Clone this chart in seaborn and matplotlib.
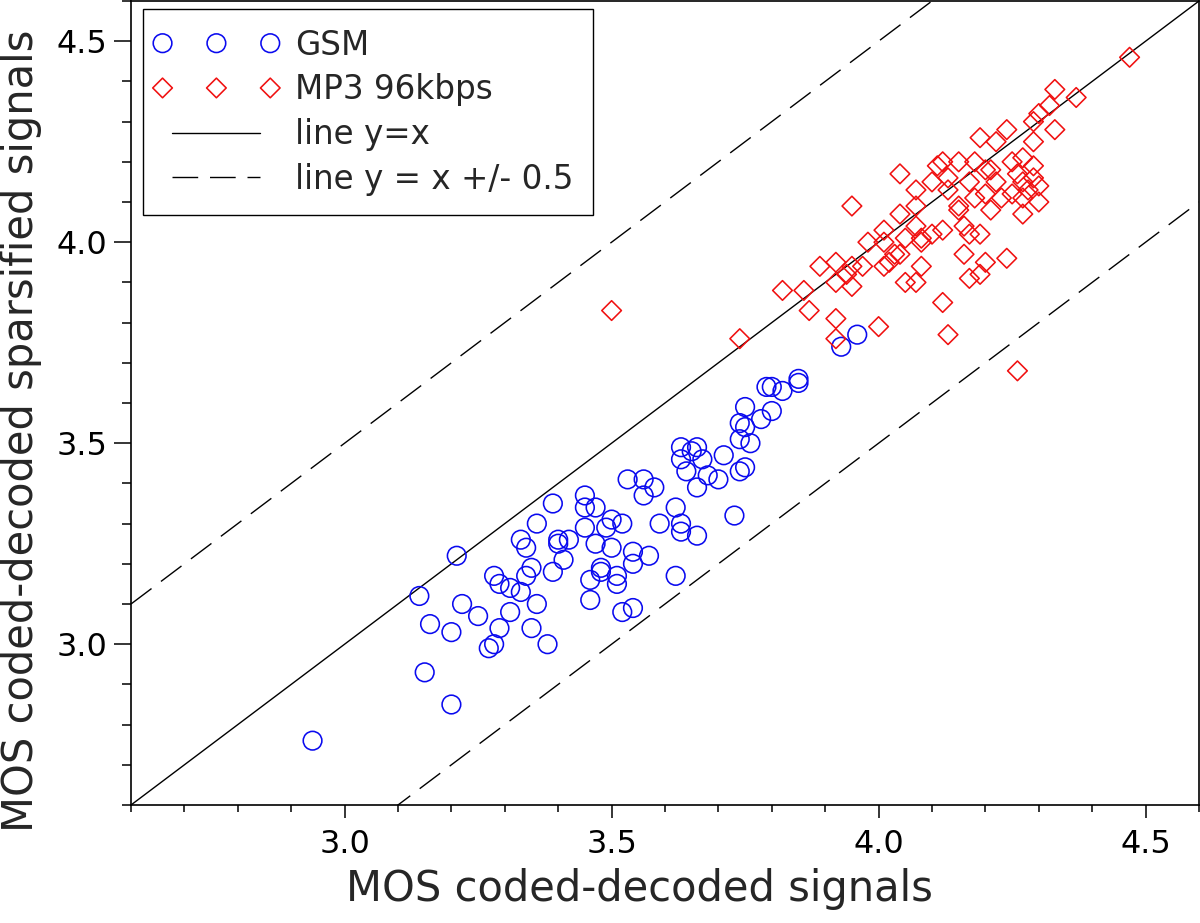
import matplotlib
matplotlib.use("Agg")
import matplotlib.pyplot as plt
import seaborn as sns
import pandas as pd
from matplotlib.ticker import MultipleLocator, FormatStrFormatter
from matplotlib.collections import PathCollection
from matplotlib.legend_handler import HandlerPathCollection

# ---------------- data ----------------
gsm_x = [2.94, 3.14, 3.16, 3.15, 3.20, 3.20, 3.22, 3.21, 3.25, 3.31, 3.29, 3.28, 3.27,
         3.28, 3.29, 3.31, 3.34, 3.33, 3.35, 3.36, 3.38, 3.63, 3.65, 3.66, 3.67, 3.63,
         3.64, 3.66, 3.68, 3.53, 3.56, 3.58, 3.56, 3.62, 3.59, 3.63, 3.63, 3.66, 3.39,
         3.45, 3.45, 3.47, 3.50, 3.52, 3.49, 3.45, 3.36, 3.33, 3.34, 3.40, 3.42, 3.40,
         3.47, 3.50, 3.41, 3.54, 3.54, 3.57, 3.62, 3.35, 3.39, 3.46, 3.48, 3.48, 3.51,
         3.51, 3.46, 3.52, 3.54, 3.71, 3.70, 3.74, 3.75, 3.93, 3.96, 3.85, 3.85, 3.79,
         3.80, 3.82, 3.75, 3.80, 3.78, 3.74, 3.75, 3.74, 3.76, 3.73]
gsm_y = [2.76, 3.12, 3.05, 2.93, 2.85, 3.03, 3.10, 3.22, 3.07, 3.08, 3.04, 3.00, 2.99,
         3.17, 3.15, 3.14, 3.17, 3.13, 3.04, 3.10, 3.00, 3.49, 3.48, 3.49, 3.46, 3.46,
         3.43, 3.39, 3.42, 3.41, 3.41, 3.39, 3.37, 3.34, 3.30, 3.30, 3.28, 3.27, 3.35,
         3.37, 3.34, 3.34, 3.31, 3.30, 3.29, 3.29, 3.30, 3.26, 3.24, 3.26, 3.26, 3.25,
         3.25, 3.24, 3.21, 3.23, 3.20, 3.22, 3.17, 3.19, 3.18, 3.16, 3.19, 3.18, 3.17,
         3.15, 3.11, 3.08, 3.09, 3.47, 3.41, 3.43, 3.44, 3.74, 3.77, 3.66, 3.65, 3.64,
         3.64, 3.63, 3.59, 3.58, 3.56, 3.55, 3.54, 3.51, 3.50, 3.32]

mp3_x = [3.50, 3.74, 3.82, 3.86, 3.87, 3.89, 3.92, 3.94, 3.92, 3.95, 3.95, 3.92, 3.92,
         4.00, 3.97, 4.01, 4.02, 4.08, 4.05, 4.07, 4.17, 4.19, 4.12, 4.13, 3.95, 3.98,
         4.01, 4.01, 4.03, 4.04, 4.04, 4.04, 4.05, 4.07, 4.07, 4.07, 4.08, 4.08, 4.10,
         4.10, 4.11, 4.12, 4.12, 4.13, 4.13, 4.15, 4.15, 4.15, 4.16, 4.16, 4.17, 4.17,
         4.18, 4.18, 4.19, 4.19, 4.20, 4.20, 4.20, 4.21, 4.21, 4.22, 4.22, 4.23, 4.24,
         4.24, 4.25, 4.25, 4.27, 4.29, 4.26, 4.29, 4.27, 4.30, 4.28, 4.30, 4.27, 4.27,
         4.29, 4.29, 4.33, 4.30, 4.32, 4.33, 4.37, 4.47, 4.26]
mp3_y = [3.83, 3.76, 3.88, 3.88, 3.83, 3.94, 3.95, 3.92, 3.90, 3.89, 3.94, 3.81, 3.76,
         3.79, 3.94, 3.94, 3.95, 3.94, 3.90, 3.90, 3.91, 3.92, 3.85, 3.77, 4.09, 4.00,
         4.00, 4.03, 3.97, 3.97, 4.07, 4.17, 4.01, 4.13, 4.09, 4.04, 4.01, 4.00, 4.02,
         4.15, 4.19, 4.20, 4.03, 4.16, 4.13, 4.09, 4.08, 4.20, 4.04, 3.97, 4.02, 4.15,
         4.20, 4.11, 4.26, 4.02, 4.12, 4.18, 3.95, 4.08, 4.18, 4.25, 4.15, 4.11, 4.28,
         3.96, 4.12, 4.20, 4.21, 4.19, 4.17, 4.16, 4.15, 4.14, 4.13, 4.10, 4.11, 4.07,
         4.25, 4.30, 4.28, 4.32, 4.34, 4.38, 4.36, 4.46, 3.68]

series_labels = ["GSM", "MP3 96kbps", "line y=x", "line y = x +/- 0.5"]
axis_range = [2.6, 4.6]
band_offset = 0.5

# ---------------- style ----------------
sns.set_style("ticks")
plt.rcParams["font.family"] = ["DejaVu Sans"]

fig = plt.figure(figsize=(12, 9.23), dpi=100)
ax = fig.add_axes([131 / 1200, 1 - 805 / 923, 1068 / 1200, 804 / 923])

gsm_df = pd.DataFrame({"x": gsm_x, "y": gsm_y})
mp3_df = pd.DataFrame({"x": mp3_x, "y": mp3_y})

# reference lines
line_df = pd.DataFrame({"x": axis_range, "y": axis_range})
ax.plot(line_df["x"], line_df["y"], color="black", lw=1.0, label=series_labels[2], zorder=1)
dash = (0, (18.5, 8.5))
ax.plot(line_df["x"], line_df["y"] + band_offset, color="black", lw=1.0,
        linestyle=dash, label=series_labels[3], zorder=1)
ax.plot(line_df["x"], line_df["y"] - band_offset, color="black", lw=1.0,
        linestyle=dash, zorder=1)

sns.scatterplot(data=gsm_df, x="x", y="y", marker="o", s=180, facecolor="none",
                edgecolor="#0a0aef", linewidth=1.15, ax=ax, label=series_labels[0], zorder=3)
sns.scatterplot(data=mp3_df, x="x", y="y", marker="D", s=100, facecolor="none",
                edgecolor="#f01010", linewidth=1.15, ax=ax, label=series_labels[1], zorder=3)

ax.set_xlim(*axis_range)
ax.set_ylim(*axis_range)
for axis in (ax.xaxis, ax.yaxis):
    axis.set_major_locator(MultipleLocator(0.5))
    axis.set_minor_locator(MultipleLocator(0.1))
    axis.set_major_formatter(FormatStrFormatter("%.1f"))

ax.tick_params(which="both", direction="out", width=1.1, colors="black", labelsize=23)
ax.tick_params(axis="x", which="major", length=9, pad=8)
ax.tick_params(axis="x", which="minor", length=5)
ax.tick_params(axis="y", which="major", length=12, pad=5)
ax.tick_params(axis="y", which="minor", length=6.5)
for sp in ax.spines.values():
    sp.set_visible(True)
    sp.set_color("black")
    sp.set_linewidth(1.2)

ax.set_xlabel("MOS coded-decoded signals", fontsize=30)
ax.set_ylabel("MOS coded-decoded sparsified signals", fontsize=30)
ax.xaxis.set_label_coords(0.476, -0.078)
ax.yaxis.set_label_coords(-0.083, 0.465)

handles, labels = ax.get_legend_handles_labels()
order = [labels.index(l) for l in series_labels]
leg = ax.legend([handles[i] for i in order], [labels[i] for i in order],
                loc="upper left", bbox_to_anchor=(0.0112, 0.99), borderaxespad=0,
                fontsize=23.5, scatterpoints=3, scatteryoffsets=[0.5], numpoints=3,
                handlelength=3.3, handletextpad=0.75, labelspacing=0.36, borderpad=0.6,
                fancybox=False, framealpha=1, edgecolor="black",
                handler_map={PathCollection: HandlerPathCollection(marker_pad=0)})
leg.get_frame().set_linewidth(1.0)

fig.savefig("out.png", dpi=100)
